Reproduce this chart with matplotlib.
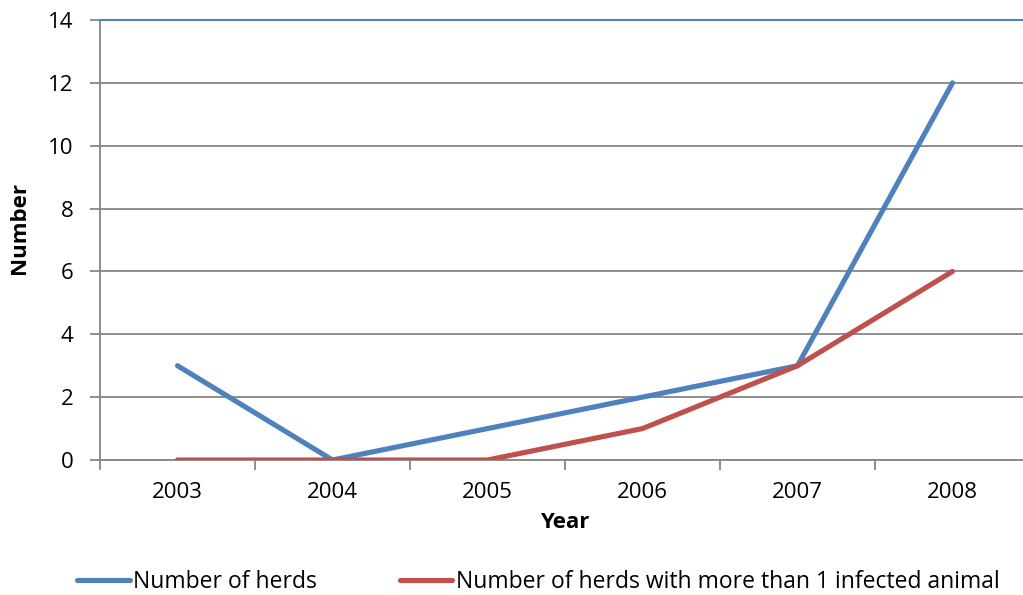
import numpy as np
import matplotlib.pyplot as plt

plt.rcParams['font.family'] = ['Open Sans', 'DejaVu Sans']

years = ['2003', '2004', '2005', '2006', '2007', '2008']
herds = [3, 0, 1, 2, 3, 12]
herds_multi = [0, 0, 0, 1, 3, 6]

blue = '#4F81BD'
red = '#C0504D'
grid = '#868686'
fs = 16

fig = plt.figure(figsize=(10.23, 5.95), dpi=100)
# axes run a little past the right edge of the figure
ax = fig.add_axes([100 / 1023, 135 / 595, 930 / 1023, 440 / 595])

x = np.arange(len(years))
ax.plot(x, herds, color=blue, lw=3.7, solid_capstyle='round', label='Number of herds', zorder=3)
ax.plot(x, herds_multi, color=red, lw=3.7, solid_capstyle='round',
        label='Number of herds with more than 1 infected animal', zorder=3)

ax.set_xlim(-0.5, 5.5)
ax.set_ylim(0, 14)
ax.set_yticks(range(0, 15, 2))
ax.set_xticks(x)
ax.set_xticklabels(years)
ax.set_xticks(np.arange(-0.5, 6, 1), minor=True)
ax.tick_params(axis='x', which='major', length=0, pad=16, labelsize=fs)
ax.tick_params(axis='x', which='minor', length=7, width=1.3, color=grid, direction='out')
ax.tick_params(axis='y', length=7, width=1.3, color=grid, labelsize=fs, pad=12)

ax.yaxis.grid(True, color=grid, lw=1.3)
ax.set_axisbelow(True)
ax.spines['right'].set_visible(False)
ax.spines['top'].set_color(blue)
ax.spines['top'].set_linewidth(1.5)
for s in ['left', 'bottom']:
    ax.spines[s].set_color(grid)
    ax.spines[s].set_linewidth(1.3)

ax.set_xlabel('Year', fontsize=fs, fontweight='bold', labelpad=6)
fig.text(20 / 1023, 1 - 228 / 595, 'Number', rotation=90, fontsize=fs,
         fontweight='bold', ha='center', va='center')

leg = fig.legend(loc='center left', bbox_to_anchor=(77 / 1023, 1 - 582 / 595), ncol=2,
                 frameon=False, fontsize=16.5, handlelength=2.3, handletextpad=0.15,
                 columnspacing=3.6, borderaxespad=0, borderpad=0)

fig.savefig('out.png', dpi=100)
